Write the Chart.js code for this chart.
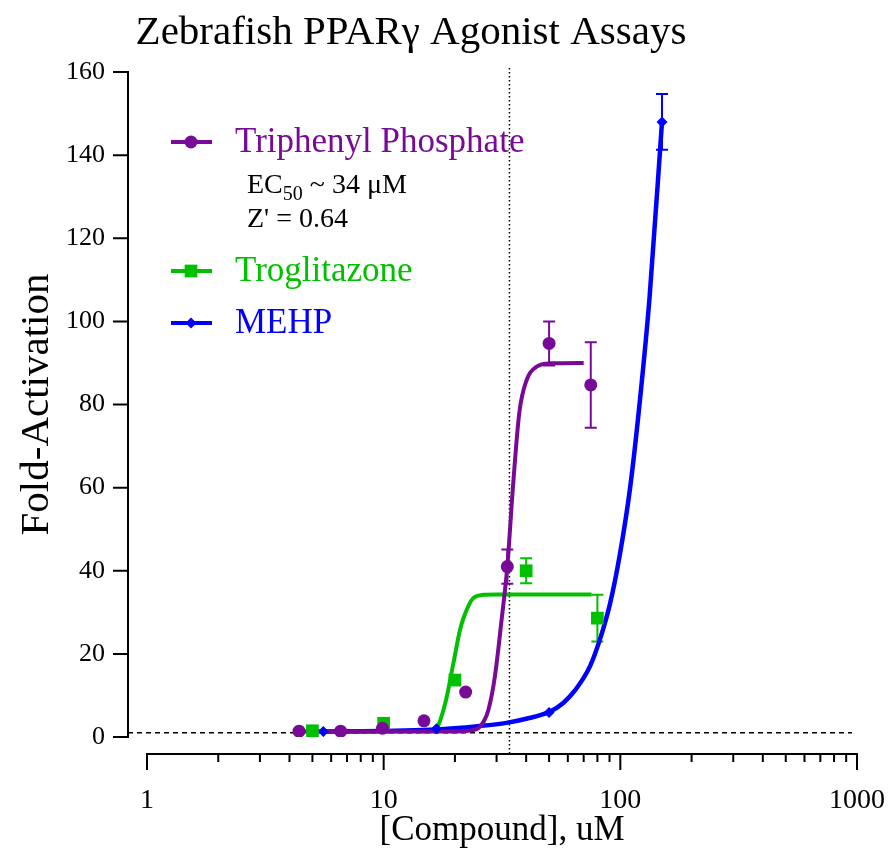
<!DOCTYPE html>
<html>
<head>
<meta charset="utf-8">
<title>Zebrafish PPARγ Agonist Assays</title>
<script src="https://cdn.jsdelivr.net/npm/chart.js@4.4.1/dist/chart.umd.min.js"></script>
<style>
  html, body { margin: 0; padding: 0; background: #fff; }
  #chart { display: block; }
</style>
</head>
<body>
<canvas id="chart" width="893" height="852"></canvas>
<script>
// ---- labels ----
const chartTitle = 'Zebrafish PPARγ Agonist Assays';
const xTitle = '[Compound], uM';
const yTitle = 'Fold-Activation';
const xTickValues = [1, 10, 100, 1000];
const yTickValues = [0, 20, 40, 60, 80, 100, 120, 140, 160];

// ---- Triphenyl Phosphate ----
const tppLabel = 'Triphenyl Phosphate';
const tppConc = [4.39, 6.58, 9.88, 14.8, 22.2, 33.3, 50, 75];
const tppMean = [1.4, 1.4, 2.1, 3.9, 10.8, 41.0, 94.7, 84.7];
const tppSem  = [0, 0, 0, 0, 0, 4.1, 5.3, 10.3];
const tppFitConc = [4.39, 15, 22, 23.5, 25.1, 26.5, 27.7, 29.5, 31.5, 33.3, 35.1, 37.4, 40.2, 44.3, 50.4, 70];
const tppFitVal  = [1.3, 1.3, 1.4, 1.6, 2.1, 3.8, 6.5, 14.5, 28.2, 41.0, 59.4, 77.9, 85.9, 89.1, 89.9, 90.0];

// ---- Troglitazone ----
const trogLabel = 'Troglitazone';
const trogConc = [5, 10, 20, 40, 80];
const trogMean = [1.5, 3.3, 13.7, 40.0, 28.6];
const trogSem  = [0, 0, 0, 3.0, 5.6];
const trogFitConc = [5, 15, 16.7, 18.2, 19.7, 21.0, 22.0, 23.9, 26.4, 30, 75.6];
const trogFitVal  = [1.3, 1.4, 2.1, 8.1, 17.7, 25.7, 29.4, 33.4, 34.2, 34.3, 34.3];

// ---- MEHP ----
const mehpLabel = 'MEHP';
const mehpConc = [5.56, 16.7, 50, 150];
const mehpMean = [1.3, 2.0, 5.9, 148.0];
const mehpSem  = [0, 0, 0, 6.7];
const mehpFitConc = [5.56, 16.7, 25, 33, 40, 50, 57.4, 64.3, 74.4, 82, 90.4, 99.6, 110, 121, 133, 150];
const mehpFitVal  = [1.3, 1.8, 2.6, 3.4, 4.4, 6.0, 8.2, 11.2, 17.0, 23.5, 32.0, 44.0, 60.0, 81.0, 106.0, 148.0];

// reference lines / annotation
const baselineFold = 1;
const ec50Value = 34;
const ec50Text = ['EC', '50', ' ~ 34 μM'];
const zPrimeText = "Z' = 0.64";

const purple = '#780a97';
const green = '#00c000';
const blue = '#0000ff';
const serif = '"Liberation Serif", "Times New Roman", serif';

function pts(xs, ys) {
  return xs.map((v, i) => ({x: v, y: ys[i]}));
}

const series = [
  {conc: tppConc, mean: tppMean, sem: tppSem, color: purple},
  {conc: trogConc, mean: trogMean, sem: trogSem, color: green},
  {conc: mehpConc, mean: mehpMean, sem: mehpSem, color: blue}
];

const datasets = [
  {label: tppLabel, data: pts(tppConc, tppMean), showLine: false, pointStyle: 'circle', pointRadius: 6.5,
   backgroundColor: purple, borderColor: purple, borderWidth: 0, legendY: 142},
  {label: trogLabel, data: pts(trogConc, trogMean), showLine: false, pointStyle: 'rect', pointRadius: 9,
   backgroundColor: green, borderColor: green, borderWidth: 0, legendY: 271},
  {label: mehpLabel, data: pts(mehpConc, mehpMean), showLine: false, pointStyle: 'rectRot', pointRadius: 5.5,
   backgroundColor: blue, borderColor: blue, borderWidth: 0, legendY: 323},
  {label: tppLabel + ' fit', data: pts(tppFitConc, tppFitVal), showLine: true, pointRadius: 0,
   borderColor: purple, borderWidth: 4, cubicInterpolationMode: 'monotone', fill: false},
  {label: mehpLabel + ' fit', data: pts(mehpFitConc, mehpFitVal), showLine: true, pointRadius: 0,
   borderColor: blue, borderWidth: 4.5, cubicInterpolationMode: 'monotone', fill: false},
  {label: trogLabel + ' fit', data: pts(trogFitConc, trogFitVal), showLine: true, pointRadius: 0,
   borderColor: green, borderWidth: 4, cubicInterpolationMode: 'monotone', fill: false}
];

const decor = {
  id: 'decor',
  beforeDatasetsDraw(chart) {
    const {ctx, chartArea, scales: {x, y}} = chart;
    const axisLeft = chartArea.left - 19;
    const axisBottom = chartArea.bottom + 17;
    ctx.save();
    ctx.strokeStyle = '#000';

    // dashed 1-fold line
    ctx.lineWidth = 1.5;
    ctx.setLineDash([5, 4]);
    const yb = y.getPixelForValue(baselineFold);
    ctx.beginPath();
    ctx.moveTo(axisLeft, yb);
    ctx.lineTo(chartArea.right - 5, yb);
    ctx.stroke();

    // dotted EC50 line
    ctx.lineWidth = 1.5;
    ctx.setLineDash([1.5, 2.5]);
    const xe = x.getPixelForValue(ec50Value);
    ctx.beginPath();
    ctx.moveTo(xe, chartArea.top - 4);
    ctx.lineTo(xe, axisBottom);
    ctx.stroke();
    ctx.setLineDash([]);

    // error bars
    ctx.lineWidth = 2;
    series.forEach(s => {
      ctx.strokeStyle = s.color;
      s.conc.forEach((c, i) => {
        if (!s.sem[i]) return;
        const px = x.getPixelForValue(c);
        const top = y.getPixelForValue(s.mean[i] + s.sem[i]);
        const bot = y.getPixelForValue(s.mean[i] - s.sem[i]);
        ctx.beginPath();
        ctx.moveTo(px, top); ctx.lineTo(px, bot);
        ctx.moveTo(px - 6, top); ctx.lineTo(px + 6, top);
        ctx.moveTo(px - 6, bot); ctx.lineTo(px + 6, bot);
        ctx.stroke();
      });
    });
    ctx.restore();
  },
  afterDraw(chart) {
    const {ctx, chartArea, scales: {x, y}} = chart;
    const axisLeft = chartArea.left - 19;
    const axisBottom = chartArea.bottom + 17;
    ctx.save();
    ctx.strokeStyle = '#000';
    ctx.fillStyle = '#000';
    ctx.lineWidth = 2;

    // y axis with ticks
    ctx.beginPath();
    ctx.moveTo(axisLeft, y.getPixelForValue(yTickValues[yTickValues.length - 1]) - 1);
    ctx.lineTo(axisLeft, y.getPixelForValue(yTickValues[0]) + 1);
    yTickValues.forEach(v => {
      const py = y.getPixelForValue(v);
      ctx.moveTo(axisLeft + 1, py);
      ctx.lineTo(axisLeft - 15, py);
    });
    ctx.stroke();

    // x axis with major / minor ticks
    ctx.beginPath();
    ctx.moveTo(x.getPixelForValue(xTickValues[0]) - 1, axisBottom);
    ctx.lineTo(x.getPixelForValue(xTickValues[xTickValues.length - 1]) + 1, axisBottom);
    xTickValues.forEach((v, i) => {
      const px = x.getPixelForValue(v);
      ctx.moveTo(px, axisBottom - 1);
      ctx.lineTo(px, axisBottom + 16);
      if (i < xTickValues.length - 1) {
        for (let m = 2; m <= 9; m++) {
          const pm = x.getPixelForValue(v * m);
          ctx.moveTo(pm, axisBottom - 1);
          ctx.lineTo(pm, axisBottom + 8);
        }
      }
    });
    ctx.stroke();

    // title
    ctx.font = '41px ' + serif;
    ctx.textAlign = 'center';
    ctx.textBaseline = 'alphabetic';
    ctx.fillText(chartTitle, 411, 44);

    // legend
    const lx0 = 171, lx1 = 212, lxm = 191, ltx = 235;
    chart.data.datasets.forEach(ds => {
      if (ds.legendY === undefined) return;
      const ly = ds.legendY;
      ctx.strokeStyle = ds.borderColor;
      ctx.lineWidth = 4;
      ctx.beginPath();
      ctx.moveTo(lx0, ly); ctx.lineTo(lx1, ly);
      ctx.stroke();
      ctx.fillStyle = ds.backgroundColor;
      Chart.helpers.drawPoint(ctx, {pointStyle: ds.pointStyle, radius: ds.pointRadius, rotation: 0, borderWidth: 0}, lxm, ly);
      ctx.font = '35px ' + serif;
      ctx.textAlign = 'left';
      ctx.fillText(ds.label, ltx, ly + 10);
    });

    // EC50 / Z' annotation
    ctx.fillStyle = '#000';
    ctx.textAlign = 'left';
    let tx = 247;
    ctx.font = '28px ' + serif;
    ctx.fillText(ec50Text[0], tx, 193);
    tx += ctx.measureText(ec50Text[0]).width;
    ctx.font = '20px ' + serif;
    ctx.fillText(ec50Text[1], tx, 200);
    tx += ctx.measureText(ec50Text[1]).width;
    ctx.font = '28px ' + serif;
    ctx.fillText(ec50Text[2], tx, 193);
    ctx.fillText(zPrimeText, 247, 227);
    ctx.restore();
  }
};

new Chart(document.getElementById('chart'), {
  type: 'scatter',
  data: {datasets: datasets},
  options: {
    responsive: false,
    animation: false,
    layout: {padding: {top: 72, right: 36, bottom: 0, left: 0}},
    plugins: {
      legend: {display: false},
      title: {display: false},
      tooltip: {enabled: false}
    },
    scales: {
      x: {
        type: 'logarithmic',
        min: 1,
        max: 1000,
        afterFit: s => { s.height = 115; s.paddingLeft = 0; s.paddingRight = 0; },
        afterBuildTicks: s => { s.ticks = xTickValues.map(v => ({value: v})); },
        grid: {display: false, drawTicks: false},
        border: {display: false},
        ticks: {
          padding: 47, color: '#000', autoSkip: false, maxRotation: 0,
          font: {family: serif, size: 28},
          callback: v => String(v)
        },
        title: {display: true, text: xTitle, color: '#000', font: {family: serif, size: 35}, padding: {top: 0, bottom: 0}}
      },
      y: {
        min: 0,
        max: 160,
        afterFit: s => { s.width = 147; s.paddingTop = 0; s.paddingBottom = 0; },
        afterBuildTicks: s => { s.ticks = yTickValues.map(v => ({value: v})); },
        grid: {display: false, drawTicks: false},
        border: {display: false},
        ticks: {padding: 42, color: '#000', font: {family: serif, size: 26}},
        title: {display: true, text: yTitle, color: '#000', font: {family: serif, size: 41}, padding: {top: 13, bottom: 0}}
      }
    }
  },
  plugins: [decor]
});
</script>
</body>
</html>
